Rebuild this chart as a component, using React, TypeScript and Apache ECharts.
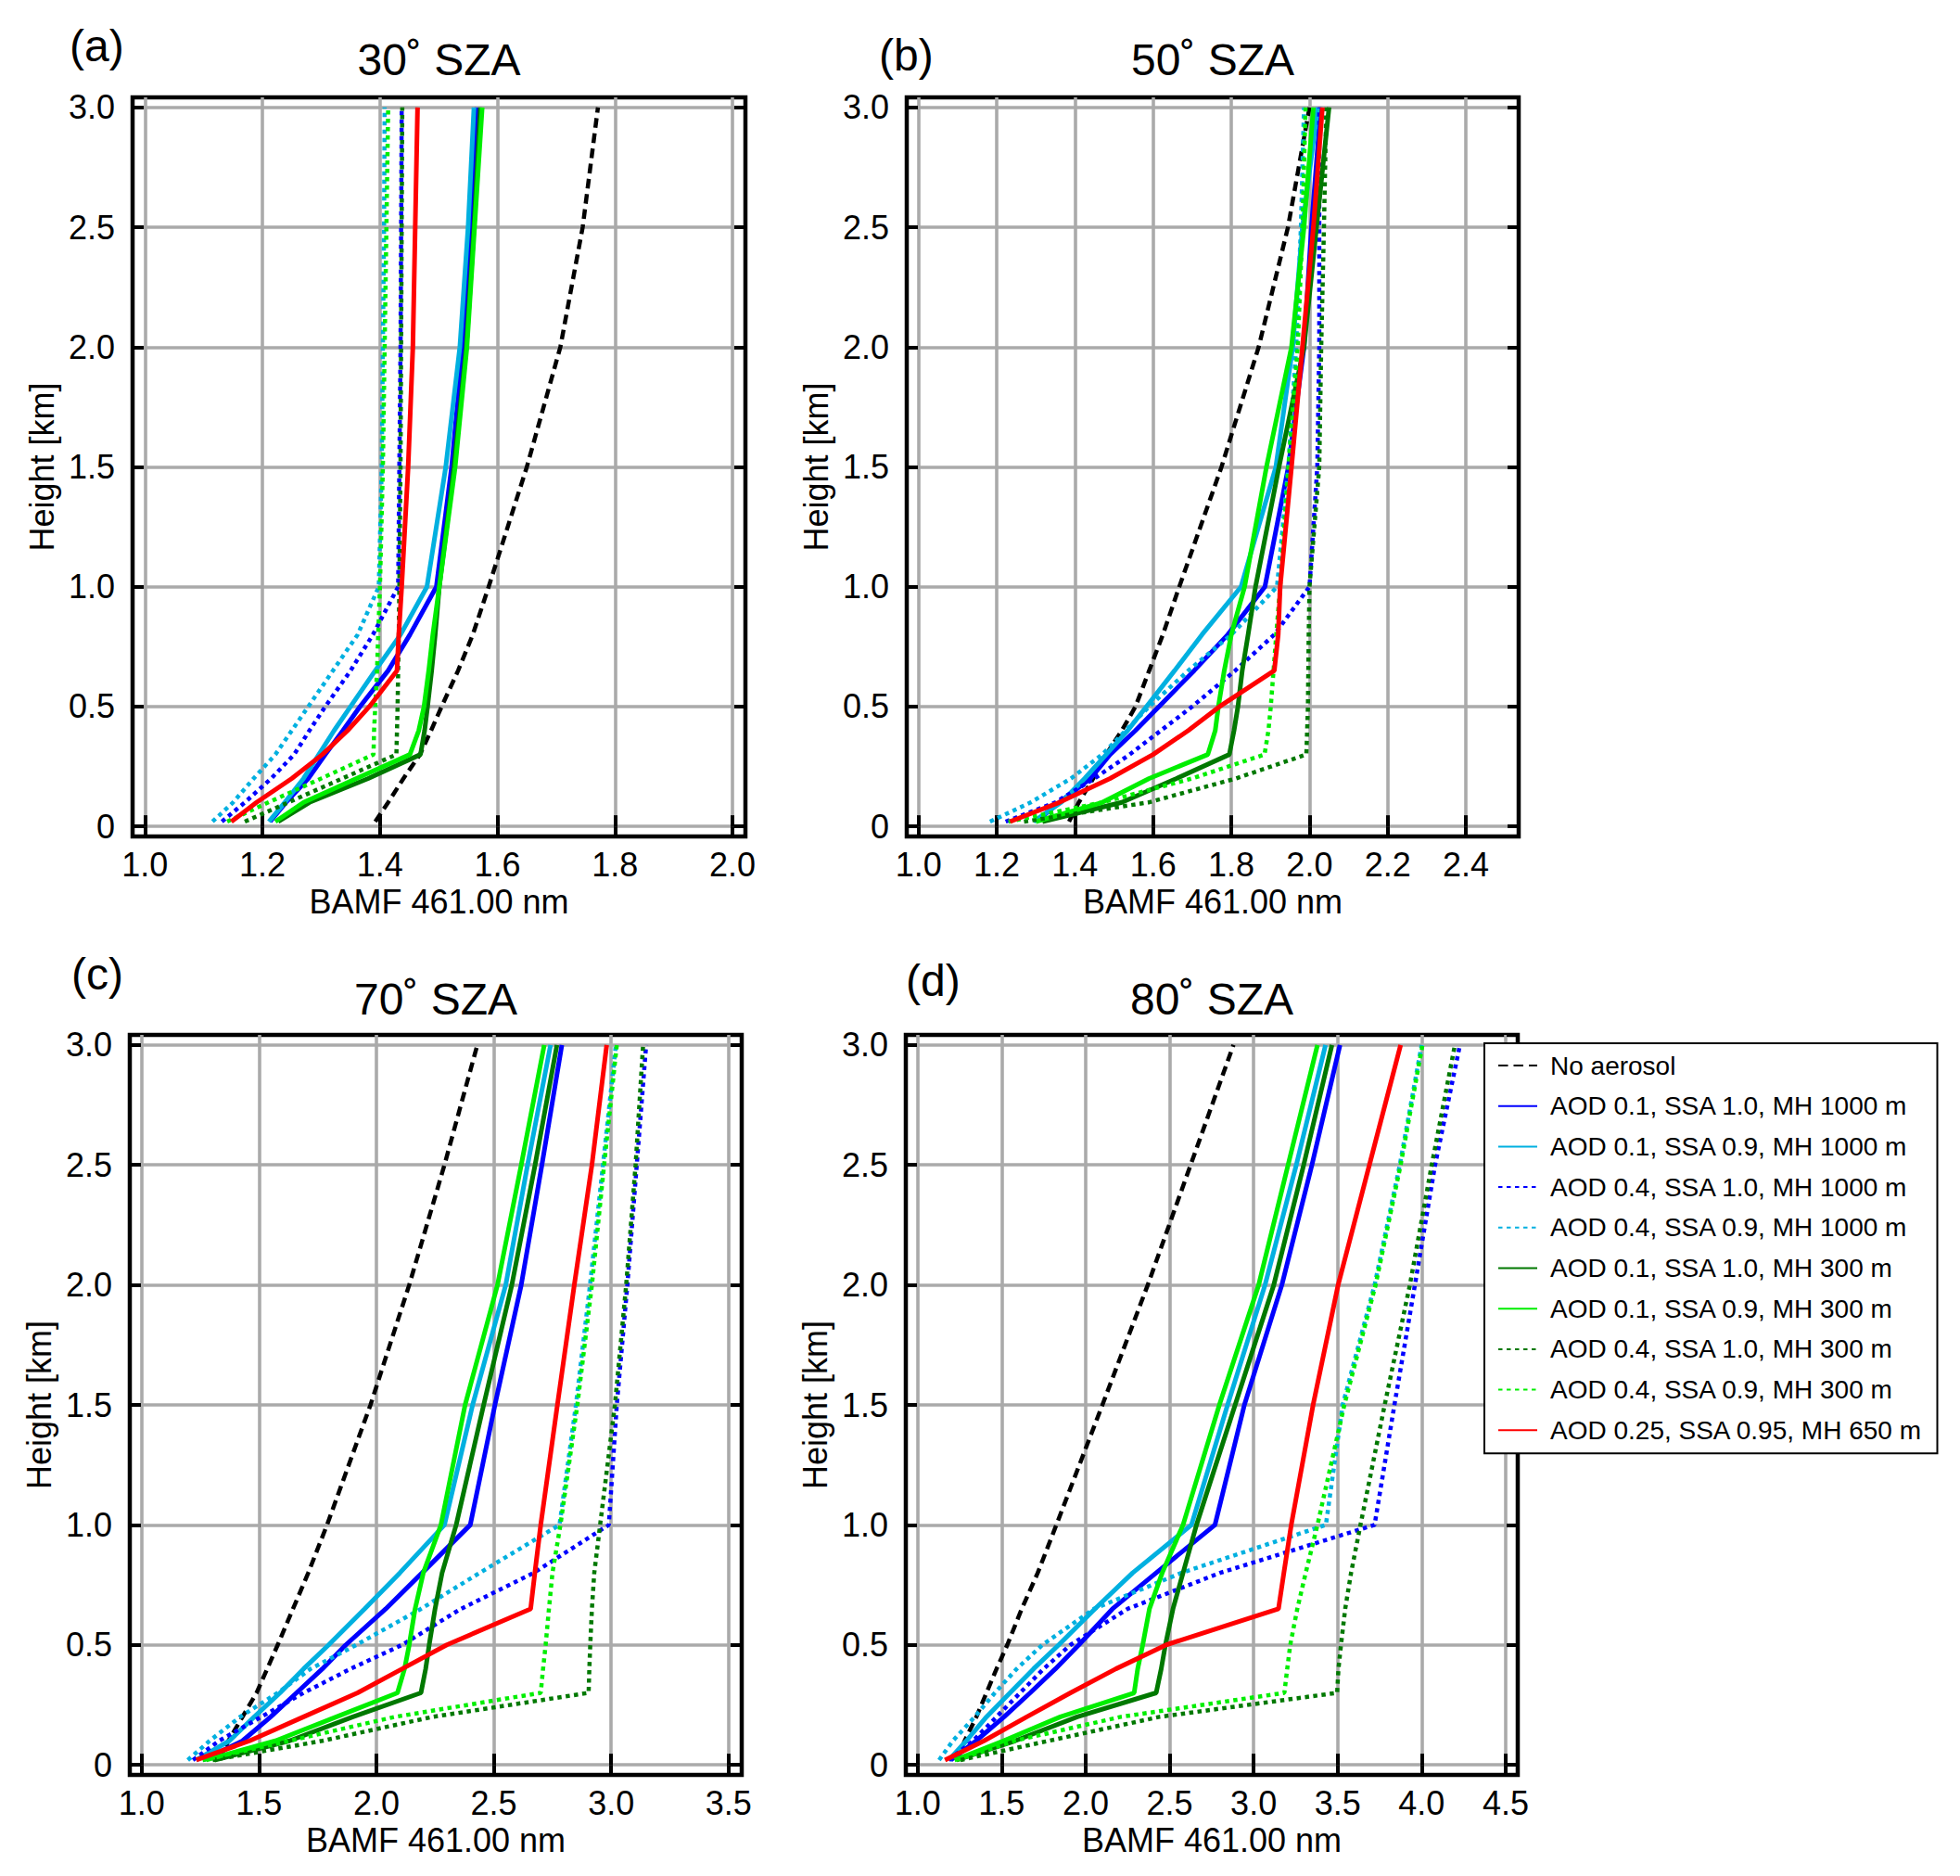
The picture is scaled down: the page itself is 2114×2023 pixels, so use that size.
import React, { useEffect, useRef } from "react";
import * as echarts from "echarts";

// ---------- data ----------
const HEIGHTS = [0.02, 0.1, 0.2, 0.3, 0.4, 0.5, 0.65, 0.8, 1.0, 1.5, 2.0, 2.5, 3.0];

const SERIES_NAMES = [
  "No aerosol",
  "AOD 0.1, SSA 1.0, MH 1000 m",
  "AOD 0.1, SSA 0.9, MH 1000 m",
  "AOD 0.4, SSA 1.0, MH 1000 m",
  "AOD 0.4, SSA 0.9, MH 1000 m",
  "AOD 0.1, SSA 1.0, MH 300 m",
  "AOD 0.1, SSA 0.9, MH 300 m",
  "AOD 0.4, SSA 1.0, MH 300 m",
  "AOD 0.4, SSA 0.9, MH 300 m",
  "AOD 0.25, SSA 0.95, MH 650 m",
];

const PANEL_TITLES = ["30˚ SZA", "50˚ SZA", "70˚ SZA", "80˚ SZA"];
const PANEL_LETTERS = ["(a)", "(b)", "(c)", "(d)"];
const X_NAME = "BAMF 461.00 nm";
const Y_NAME = "Height [km]";

const X_MIN = [0.979, 0.97, 0.95, 0.93];
const X_MAX = [2.022, 2.535, 3.556, 4.572];
const X_STEP = [0.2, 0.2, 0.5, 0.5];
const Y_MIN = -0.042;
const Y_MAX = 3.042;
const Y_STEP = 0.5;

// BAMF values at HEIGHTS, rows in SERIES_NAMES order
const BAMF_SZA30 = [
  [1.392, 1.414, 1.44, 1.468, 1.487, 1.505, 1.533, 1.558, 1.585, 1.65, 1.707, 1.745, 1.771],
  [1.213, 1.24, 1.278, 1.307, 1.337, 1.366, 1.414, 1.451, 1.496, 1.522, 1.541, 1.554, 1.565],
  [1.211, 1.238, 1.27, 1.296, 1.322, 1.35, 1.392, 1.435, 1.48, 1.512, 1.536, 1.55, 1.56],
  [1.131, 1.17, 1.215, 1.254, 1.28, 1.307, 1.35, 1.388, 1.431, 1.433, 1.435, 1.436, 1.437],
  [1.115, 1.15, 1.185, 1.222, 1.25, 1.278, 1.32, 1.362, 1.398, 1.403, 1.405, 1.407, 1.408],
  [1.227, 1.28, 1.38, 1.469, 1.476, 1.481, 1.488, 1.494, 1.501, 1.526, 1.547, 1.56, 1.571],
  [1.222, 1.27, 1.36, 1.451, 1.466, 1.475, 1.483, 1.49, 1.501, 1.528, 1.548, 1.561, 1.574],
  [1.17, 1.244, 1.336, 1.428, 1.429, 1.43, 1.431, 1.432, 1.433, 1.435, 1.436, 1.437, 1.438],
  [1.14, 1.21, 1.3, 1.389, 1.39, 1.392, 1.395, 1.397, 1.4, 1.405, 1.408, 1.411, 1.414],
  [1.147, 1.19, 1.25, 1.302, 1.345, 1.382, 1.429, 1.432, 1.437, 1.448, 1.456, 1.46, 1.464],
];

const BAMF_SZA50 = [
  [1.385, 1.41, 1.447, 1.48, 1.52, 1.555, 1.59, 1.625, 1.667, 1.775, 1.87, 1.945, 2.0],
  [1.301, 1.36, 1.44, 1.49, 1.555, 1.615, 1.705, 1.791, 1.886, 1.946, 1.986, 2.005, 2.029],
  [1.294, 1.365, 1.425, 1.48, 1.535, 1.583, 1.655, 1.725, 1.825, 1.914, 1.957, 1.982, 2.021],
  [1.223, 1.35, 1.45, 1.54, 1.62, 1.7, 1.81, 1.91, 2.0, 2.02, 2.025, 2.025, 2.025],
  [1.183, 1.287, 1.39, 1.47, 1.53, 1.59, 1.69, 1.8, 1.917, 1.946, 1.966, 1.978, 1.986],
  [1.317, 1.52, 1.66, 1.795, 1.807, 1.817, 1.828, 1.843, 1.862, 1.922, 1.986, 2.018, 2.05],
  [1.3, 1.47, 1.59, 1.74, 1.759, 1.767, 1.782, 1.8, 1.834, 1.89, 1.954, 1.986, 2.01],
  [1.27, 1.588, 1.812, 1.992, 1.994, 1.996, 1.997, 1.998, 2.0, 2.025, 2.03, 2.037, 2.043],
  [1.23, 1.47, 1.7, 1.885, 1.895, 1.901, 1.908, 1.915, 1.925, 1.946, 1.97, 1.982, 1.99],
  [1.234, 1.36, 1.49, 1.6, 1.69, 1.77, 1.91, 1.92, 1.925, 1.954, 1.982, 2.01, 2.033],
];

const BAMF_SZA70 = [
  [1.33, 1.37, 1.43, 1.49, 1.535, 1.58, 1.645, 1.71, 1.79, 1.975, 2.14, 2.29, 2.43],
  [1.261, 1.43, 1.55, 1.66, 1.77, 1.87, 2.04, 2.195, 2.4, 2.505, 2.617, 2.705, 2.79],
  [1.233, 1.374, 1.48, 1.59, 1.69, 1.797, 1.95, 2.1, 2.29, 2.41, 2.551, 2.644, 2.742],
  [1.219, 1.33, 1.51, 1.69, 1.89, 2.11, 2.36, 2.67, 2.99, 3.024, 3.069, 3.109, 3.149],
  [1.197, 1.29, 1.42, 1.58, 1.72, 1.915, 2.19, 2.44, 2.78, 2.85, 2.91, 2.965, 3.02],
  [1.31, 1.63, 1.9, 2.19, 2.21, 2.225, 2.25, 2.28, 2.34, 2.457, 2.577, 2.676, 2.769],
  [1.275, 1.57, 1.83, 2.09, 2.12, 2.14, 2.165, 2.2, 2.275, 2.378, 2.516, 2.617, 2.715],
  [1.303, 1.77, 2.24, 2.904, 2.907, 2.911, 2.918, 2.928, 2.953, 3.016, 3.064, 3.104, 3.136],
  [1.26, 1.63, 2.08, 2.7, 2.71, 2.721, 2.735, 2.75, 2.784, 2.856, 2.918, 2.97, 3.024],
  [1.233, 1.46, 1.69, 1.92, 2.11, 2.3, 2.657, 2.675, 2.7, 2.771, 2.843, 2.918, 2.981],
];

const BAMF_SZA80 = [
  [1.235, 1.28, 1.35, 1.41, 1.47, 1.534, 1.62, 1.715, 1.826, 2.1, 2.37, 2.625, 2.88],
  [1.197, 1.348, 1.515, 1.67, 1.82, 1.96, 2.16, 2.42, 2.77, 2.945, 3.168, 3.347, 3.514],
  [1.186, 1.29, 1.41, 1.55, 1.69, 1.84, 2.055, 2.28, 2.63, 2.845, 3.068, 3.254, 3.428],
  [1.186, 1.33, 1.47, 1.61, 1.75, 1.91, 2.25, 2.8, 3.72, 3.838, 3.96, 4.08, 4.228],
  [1.128, 1.21, 1.34, 1.46, 1.59, 1.743, 2.05, 2.57, 3.43, 3.53, 3.72, 3.87, 4.0],
  [1.232, 1.58, 1.95, 2.42, 2.45, 2.475, 2.52, 2.58, 2.66, 2.89, 3.12, 3.298, 3.466],
  [1.22, 1.511, 1.85, 2.289, 2.31, 2.34, 2.38, 2.456, 2.58, 2.796, 3.03, 3.205, 3.38],
  [1.255, 1.78, 2.44, 3.497, 3.505, 3.52, 3.545, 3.58, 3.636, 3.78, 3.93, 4.06, 4.198],
  [1.232, 1.576, 2.21, 3.183, 3.2, 3.218, 3.26, 3.31, 3.38, 3.54, 3.726, 3.875, 4.005],
  [1.163, 1.395, 1.65, 1.91, 2.18, 2.48, 3.148, 3.18, 3.224, 3.354, 3.503, 3.689, 3.875],
];

const PANELS = [BAMF_SZA30, BAMF_SZA50, BAMF_SZA70, BAMF_SZA80];

// ---------- layout & style ----------
const FONT = "'Liberation Sans', Arial, Helvetica, sans-serif";
const GRID_BOXES = [
  { left: 143, top: 105, width: 661, height: 797 },
  { left: 978, top: 105, width: 660, height: 797 },
  { left: 140, top: 1116, width: 660, height: 798 },
  { left: 977, top: 1116, width: 660, height: 798 },
];
const TITLE_POS = [
  [473.5, 64],
  [1308, 64],
  [470, 1077],
  [1307, 1077],
];
const LETTER_POS = [
  [75, 49],
  [948, 59],
  [77, 1050],
  [977, 1057],
];

const LINE_W = 5;
const DOT_W = 4.5;
const DOT: number[] = [4.5, 4.5];
const DASH: number[] = [10.5, 6];
const LINE_STYLES: any[] = [
  { color: "#000000", type: DASH, width: 4.5 },
  { color: "#0000ff", type: "solid", width: LINE_W },
  { color: "#00b0e0", type: "solid", width: LINE_W },
  { color: "#0000ff", type: DOT, width: DOT_W },
  { color: "#00b0e0", type: DOT, width: DOT_W },
  { color: "#007800", type: "solid", width: LINE_W },
  { color: "#00ee00", type: "solid", width: LINE_W },
  { color: "#007800", type: DOT, width: DOT_W },
  { color: "#00ee00", type: DOT, width: DOT_W },
  { color: "#ff0000", type: "solid", width: LINE_W },
];

const fmtX = (v: number) => v.toFixed(1);
const fmtY = (v: number) => (Math.abs(v) < 1e-9 ? "0" : v.toFixed(1));

function buildOption() {
  const grid: any[] = [];
  const xAxis: any[] = [];
  const yAxis: any[] = [];
  const series: any[] = [];
  const graphic: any[] = [];

  const tick = {
    show: true,
    inside: true,
    length: 12,
    lineStyle: { color: "#000", width: 4 },
  };
  const split = {
    show: true,
    showMinLine: false,
    showMaxLine: false,
    lineStyle: { color: "#aaaaaa", width: 3.6 },
  };
  const labelFont = { fontSize: 36, fontFamily: FONT, color: "#000" };
  const nameFont = { fontSize: 36, fontFamily: FONT, color: "#000" };

  PANELS.forEach((panel, i) => {
    grid.push({
      ...GRID_BOXES[i],
      show: true,
      borderColor: "#000",
      borderWidth: 4.5,
      backgroundColor: "transparent",
      containLabel: false,
    });
    const xCommon = {
      type: "value",
      gridIndex: i,
      min: X_MIN[i],
      max: X_MAX[i],
      minInterval: X_STEP[i],
      maxInterval: X_STEP[i],
      splitNumber: 6,
    };
    xAxis.push({
      ...xCommon,
      position: "bottom",
      axisLine: { show: false },
      axisTick: tick,
      splitLine: split,
      axisLabel: {
        show: true,
        showMinLabel: false,
        showMaxLabel: false,
        formatter: fmtX,
        margin: 12,
        ...labelFont,
      },
      name: X_NAME,
      nameLocation: "middle",
      nameGap: 52,
      nameTextStyle: nameFont,
    });
    xAxis.push({
      ...xCommon,
      position: "top",
      axisLine: { show: false },
      axisTick: tick,
      splitLine: { show: false },
      axisLabel: { show: false },
    });
    const yCommon = {
      type: "value",
      gridIndex: i,
      min: Y_MIN,
      max: Y_MAX,
      minInterval: Y_STEP,
      maxInterval: Y_STEP,
      splitNumber: 6,
    };
    yAxis.push({
      ...yCommon,
      position: "left",
      axisLine: { show: false },
      axisTick: tick,
      splitLine: split,
      axisLabel: {
        show: true,
        showMinLabel: false,
        showMaxLabel: false,
        formatter: fmtY,
        margin: 19,
        ...labelFont,
      },
      name: Y_NAME,
      nameLocation: "middle",
      nameRotate: 90,
      nameGap: 80,
      nameTextStyle: nameFont,
    });
    yAxis.push({
      ...yCommon,
      position: "right",
      axisLine: { show: false },
      axisTick: tick,
      splitLine: { show: false },
      axisLabel: { show: false },
    });

    panel.forEach((vals, s) => {
      const st = LINE_STYLES[s];
      series.push({
        type: "line",
        name: SERIES_NAMES[s],
        xAxisIndex: 2 * i,
        yAxisIndex: 2 * i,
        data: HEIGHTS.map((h, k) => [vals[k], h]),
        symbol: "none",
        showSymbol: false,
        silent: true,
        lineStyle: { color: st.color, type: st.type, width: st.width },
        itemStyle: { color: st.color },
        z: 3 + s * 0.01,
      });
    });

    graphic.push({
      type: "text",
      x: TITLE_POS[i][0],
      y: TITLE_POS[i][1],
      style: {
        text: PANEL_TITLES[i],
        fontSize: 48,
        fontFamily: FONT,
        fill: "#000",
        align: "center",
        verticalAlign: "middle",
      },
    });
    graphic.push({
      type: "text",
      x: LETTER_POS[i][0],
      y: LETTER_POS[i][1],
      style: {
        text: PANEL_LETTERS[i],
        fontSize: 48,
        fontFamily: FONT,
        fill: "#000",
        align: "left",
        verticalAlign: "middle",
      },
    });
  });

  return {
    animation: false,
    backgroundColor: "#ffffff",
    grid,
    xAxis,
    yAxis,
    series,
    graphic,
    legend: {
      show: true,
      data: SERIES_NAMES,
      orient: "vertical",
      left: 1601,
      top: 1125,
      padding: [9, 16, 10, 14],
      itemWidth: 42,
      itemHeight: 14,
      itemGap: 13.7,
      selectedMode: false,
      backgroundColor: "#ffffff",
      borderColor: "#000000",
      borderWidth: 2,
      borderRadius: 0,
      itemStyle: { opacity: 0 },
      textStyle: {
        fontSize: 28,
        lineHeight: 30,
        fontFamily: FONT,
        color: "#000",
        padding: [0, 0, 0, 9],
      },
      z: 10,
    },
  };
}

export default function App() {
  const ref = useRef<HTMLDivElement>(null);
  useEffect(() => {
    if (!ref.current) return;
    const chart = echarts.init(ref.current, null, { renderer: "svg" });
    chart.setOption(buildOption() as any);
    return () => {
      chart.dispose();
    };
  }, []);
  return (
    <div
      ref={ref}
      style={{
        position: "absolute",
        left: 0,
        top: 0,
        width: 2114,
        height: 2023,
        background: "#fff",
      }}
    />
  );
}
